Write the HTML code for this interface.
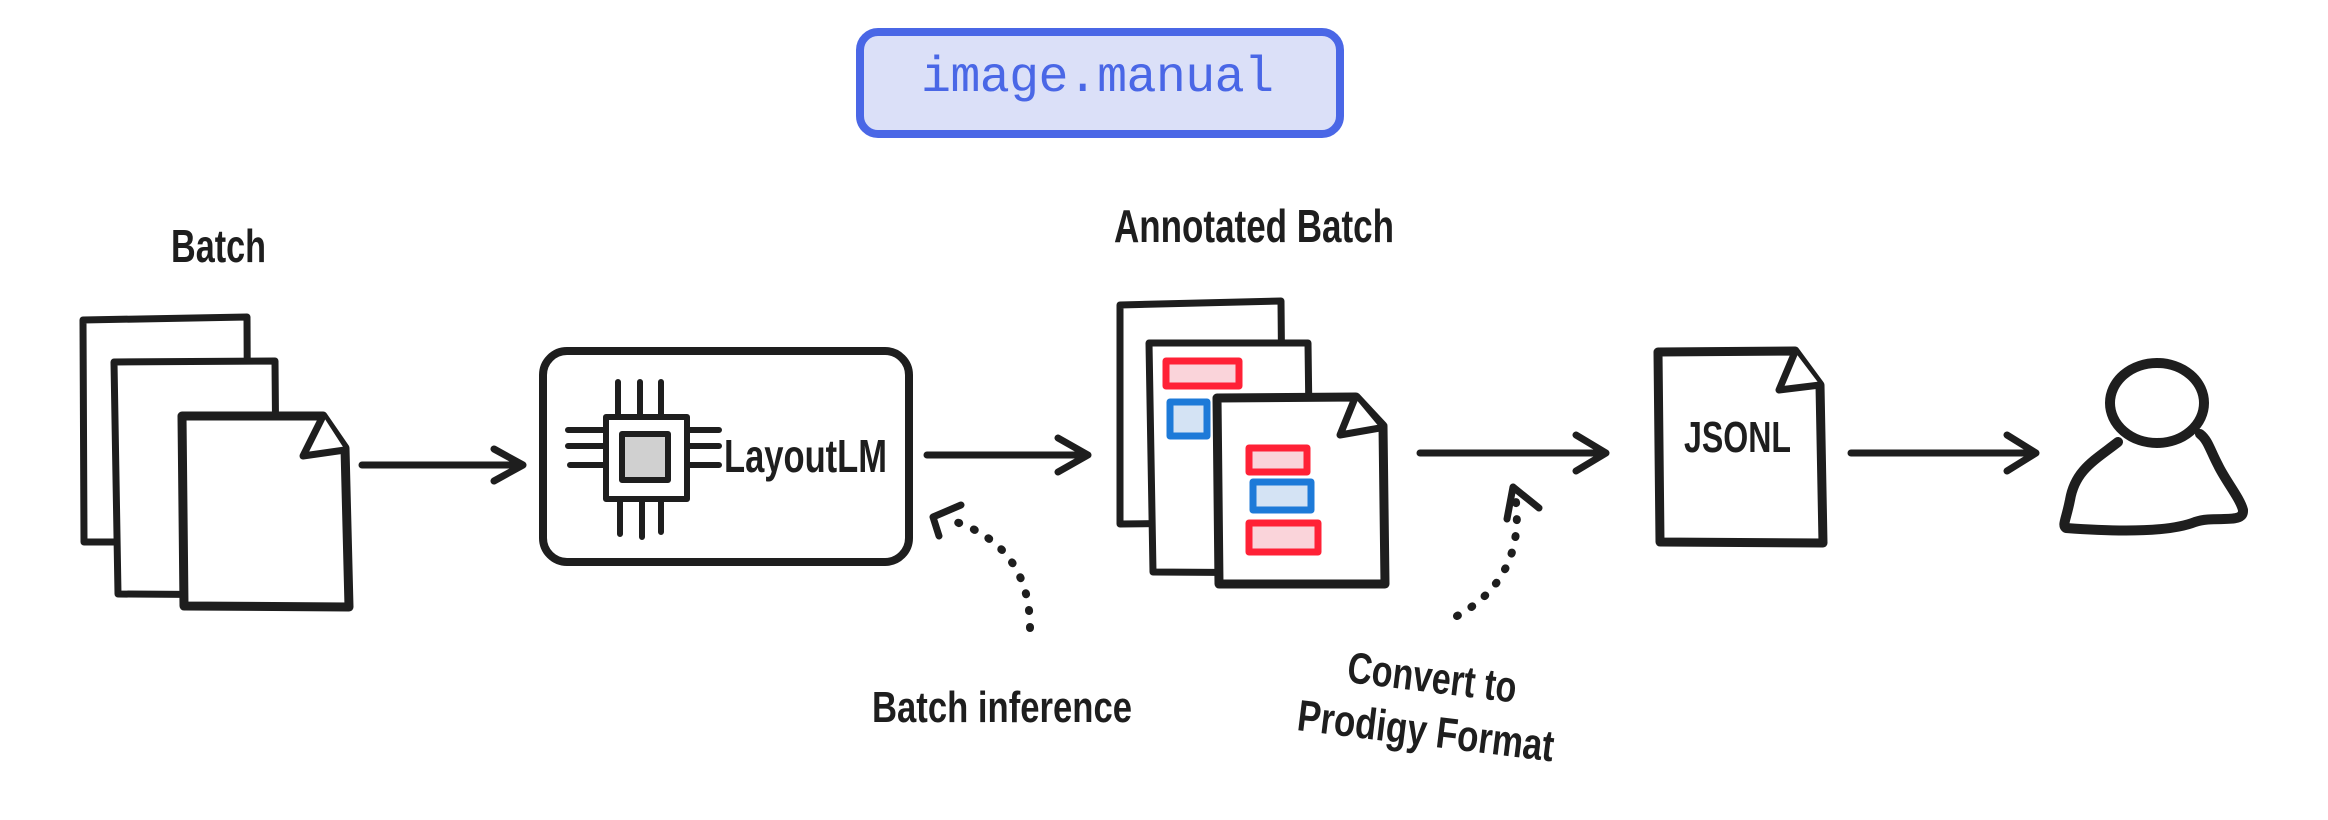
<!DOCTYPE html>
<html><head><meta charset="utf-8"><style>
html,body{margin:0;padding:0;background:#fff;}
svg{display:block;}
.h{font-family:"Liberation Sans Narrow","Liberation Sans",sans-serif;font-weight:bold;fill:#1e1e1e;}
</style></head><body>
<svg width="2328" height="820" viewBox="0 0 2328 820" xmlns="http://www.w3.org/2000/svg">
<g fill="none" stroke="#1e1e1e" stroke-linecap="round" stroke-linejoin="round">
<rect x="860" y="32" width="480" height="102" rx="18" fill="#dbe0f8" stroke="#4a67e6" stroke-width="8"/>
</g>
<text x="921" y="91" font-family="Liberation Mono, monospace" font-size="50" fill="#4a67e6" textLength="353">image.manual</text>

<g fill="#fff" stroke="#1e1e1e" stroke-linecap="round" stroke-linejoin="round">
<path d="M83 320 L247 317 L248 542 L84 542 Z" stroke-width="7"/>
<path d="M114 362 L275 361 L277 595 L118 594 Z" stroke-width="7"/>
<path d="M182 416 L323 416 L345 448 L349 607 L184 606 Z" stroke-width="9"/>
<path d="M323 416 L303 456 L345 450" stroke-width="7"/>
<rect x="543" y="351" width="366" height="211" rx="24" stroke-width="8"/>
<rect x="606" y="417" width="81" height="82" stroke-width="6"/>
<rect x="622" y="434" width="46" height="46" fill="#d0d0d0" stroke-width="6"/>
<path d="M618 382V417M640 382V417M661 382V417M620 499V534M642 499V537M661 499V532M568 430H606M568 446H606M570 465H606M687 430H719M687 446H719M687 465H719" stroke-width="6"/>
<path d="M1120 305 L1281 301 L1283 522 L1120 524 Z" stroke-width="7"/>
<path d="M1149 343 L1308 343 L1311 573 L1153 572 Z" stroke-width="7"/>
<rect x="1166" y="361" width="73" height="25" fill="#fad4da" stroke="#ff2136" stroke-width="7"/>
<rect x="1170" y="402" width="37" height="34" fill="#d4e3f4" stroke="#1d7ad8" stroke-width="7"/>
<path d="M1217 398 L1356 397 L1383 426 L1385 584 L1219 584 Z" stroke-width="9"/>
<path d="M1355 398 L1340 435 L1380 428" stroke-width="7"/>
<rect x="1249" y="448" width="58" height="24" fill="#fad4da" stroke="#ff2136" stroke-width="7"/>
<rect x="1253" y="482" width="58" height="28" fill="#d4e3f4" stroke="#1d7ad8" stroke-width="7"/>
<rect x="1249" y="523" width="69" height="29" fill="#fad4da" stroke="#ff2136" stroke-width="7"/>
<path d="M1658 352 L1795 351 L1820 385 L1823 543 L1660 542 Z" stroke-width="9"/>
<path d="M1795 352 L1779 390 L1820 385" stroke-width="7"/>
</g>
<g fill="none" stroke="#1e1e1e" stroke-linecap="round" stroke-linejoin="round" stroke-width="7">
<path d="M362 465H523M494 449L523 465L494 481"/>
<path d="M927 455H1088M1058 438L1088 455L1058 472"/>
<path d="M1420 453H1606M1576 435L1606 453L1576 471"/>
<path d="M1851 453H2036M2007 435L2036 453L2007 471"/>
<path d="M1030 628 C1030 570 1000 535 950 520" stroke-dasharray="1 16" stroke-width="8"/>
<path d="M961 505L933 517L939 536"/>
<path d="M1457 616 C1495 595 1522 560 1516 502" stroke-dasharray="1 16" stroke-width="8"/>
<path d="M1507 519L1513 487L1539 508"/>
<ellipse cx="2157" cy="403" rx="47" ry="40" stroke-width="10"/>
<path d="M2118 442 C2095 460 2075 470 2070 500 C2066 520 2062 525 2066 528 C2120 532 2170 532 2195 522 C2215 515 2244 525 2243 510 C2240 498 2225 480 2218 465 C2210 450 2208 440 2200 434" stroke-width="10"/>
</g>

<text class="h" x="171" y="262" font-size="46" textLength="95" lengthAdjust="spacingAndGlyphs">Batch</text>
<text class="h" x="1114" y="242" font-size="46" textLength="280" lengthAdjust="spacingAndGlyphs">Annotated Batch</text>
<text class="h" x="724" y="472" font-size="46" textLength="163" lengthAdjust="spacingAndGlyphs">LayoutLM</text>
<text class="h" x="1684" y="452" font-size="44" textLength="107" lengthAdjust="spacingAndGlyphs">JSONL</text>
<text class="h" x="872" y="722" font-size="44" textLength="260" lengthAdjust="spacingAndGlyphs">Batch inference</text>
<text class="h" x="1346" y="682" font-size="44" textLength="170" lengthAdjust="spacingAndGlyphs" transform="rotate(7 1346 682)">Convert to</text>
<text class="h" x="1296" y="730" font-size="44" textLength="258" lengthAdjust="spacingAndGlyphs" transform="rotate(7 1296 730)">Prodigy Format</text>
</svg>
</body></html>
